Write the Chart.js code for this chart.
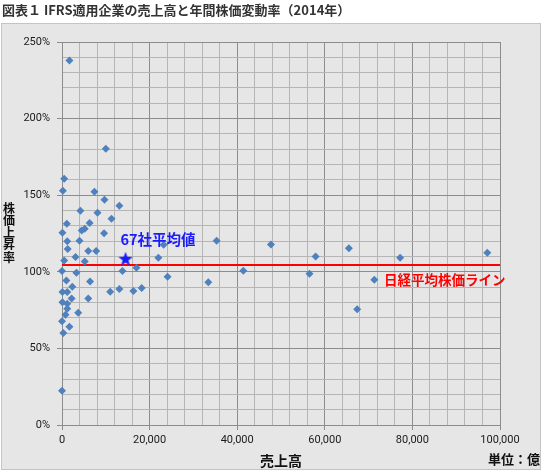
<!DOCTYPE html>
<html><head><meta charset="utf-8">
<script src="https://cdn.jsdelivr.net/npm/chart.js@4.4.1/dist/chart.umd.min.js"></script>
<style>html,body{margin:0;padding:0;background:#fff;}#wrap{position:relative;width:550px;height:472px;}</style>
</head><body><div id="wrap"><canvas id="c" width="550" height="472"></canvas></div>
<script>
const chartTitle = '図表１ IFRS適用企業の売上高と年間株価変動率（2014年）';
const xTitle = '売上高';
const yTitle = '株価上昇率';
const unitLabel = '単位：億';
const avgLabel = '67社平均値';
const nikkeiLabel = '日経平均株価ライン';

// sales (億円) and annual stock price change (%)
const sales = [1700,10000,500,200,7400,9700,13100,4200,8100,11300,1100,6300,100,4500,5200,9600,1200,4000,1300,6000,7800,3100,5200,500,0,3300,13800,17000,22000,23200,35300,47700,24100,33400,41400,18200,16300,13100,11000,57900,65500,77200,56500,71300,67400,97100,1000,6400,2350,100,1200,2200,6000,100,1200,1200,3700,800,0,1700,300,0];
const priceChange = [237.9,180.3,160.7,152.9,152.2,147.0,143.1,139.9,138.5,134.6,131.4,131.8,125.5,127.0,128.1,125.2,120.0,120.3,114.9,113.5,113.5,109.6,106.8,107.4,100.6,99.4,100.5,102.7,109.2,117.7,120.3,117.9,96.8,93.1,100.7,89.5,87.4,88.7,87.0,110.0,115.3,109.2,98.8,94.8,75.5,112.5,94.4,93.7,90.2,86.8,86.8,82.5,82.5,80.2,79.2,75.9,73.3,72.0,67.8,64.2,60.0,22.4];
const avgSales = [14500];
const avgChange = [108.5];
const nikkeiChange = [104.5];
const nikkeiRange = [0, 100000];
const nikkeiLabelAt = [73500];

const MAJOR = '#8c8c8c', MINOR = '#b5b5b5';

// star marker
const star = document.createElement('canvas');
star.width = 16; star.height = 16;
(function(){
  const g = star.getContext('2d');
  g.fillStyle = '#1a1aff';
  g.beginPath();
  for (let i = 0; i < 10; i++) {
    const r = i % 2 === 0 ? 7.5 : 3.1;
    const a = -Math.PI/2 + i * Math.PI/5;
    const px = 8 + r*Math.cos(a), py = 8.6 + r*Math.sin(a);
    if (i === 0) g.moveTo(px, py); else g.lineTo(px, py);
  }
  g.closePath(); g.fill();
})();

const decor = {
  id: 'decor',
  beforeDraw(chart) {
    const ctx = chart.ctx;
    ctx.save();
    ctx.fillStyle = '#ffffff';
    ctx.fillRect(0, 0, chart.width, chart.height);
    ctx.fillStyle = '#e6e6e6';
    ctx.fillRect(1, 23, 540, 447);
    ctx.strokeStyle = '#c4c4c4';
    ctx.lineWidth = 1;
    ctx.strokeRect(1.5, 23.5, 539, 446);
    ctx.fillStyle = '#333333';
    ctx.font = 'bold 13px "Noto Sans CJK JP"';
    ctx.textBaseline = 'middle';
    ctx.textAlign = 'left';
    ctx.fillText(chartTitle, 2, 10);
    ctx.restore();
  },
  afterDraw(chart) {
    const ctx = chart.ctx, xs = chart.scales.x, ys = chart.scales.y, a = chart.chartArea;
    ctx.save();
    ctx.textBaseline = 'middle';
    ctx.fillStyle = '#111111';
    ctx.font = 'bold 14px "Noto Sans CJK JP"';
    ctx.textAlign = 'center';
    ctx.fillText(xTitle, (a.left + a.right) / 2, 461);
    ctx.textAlign = 'right';
    ctx.font = 'bold 13px "Noto Sans CJK JP"';
    ctx.fillText(unitLabel, 540, 459);
    ctx.textAlign = 'center';
    ctx.font = 'bold 12px "Noto Sans CJK JP"';
    [...yTitle].forEach((ch, i) => ctx.fillText(ch, 9, 208 + i * 12.3));
    // average label
    ctx.textAlign = 'left';
    ctx.fillStyle = '#1a1aff';
    ctx.font = 'bold 14.5px "Noto Sans CJK JP"';
    ctx.fillText(avgLabel, xs.getPixelForValue(avgSales[0]) - 5, ys.getPixelForValue(avgChange[0]) - 19);
    // nikkei label
    ctx.fillStyle = '#ff0000';
    ctx.font = 'bold 13.5px "Noto Sans CJK JP"';
    ctx.fillText(nikkeiLabel, xs.getPixelForValue(nikkeiLabelAt[0]), ys.getPixelForValue(nikkeiChange[0]) + 14.5);
    ctx.restore();
  }
};

new Chart(document.getElementById('c'), {
  type: 'scatter',
  data: {
    datasets: [
      {
        label: nikkeiLabel,
        data: nikkeiRange.map(x => ({x, y: nikkeiChange[0]})),
        showLine: true, borderColor: '#ff0000', borderWidth: 2,
        pointRadius: 0, fill: false, order: 3
      },
      {
        label: 'IFRS適用企業',
        data: sales.map((x, i) => ({x, y: priceChange[i]})),
        pointStyle: 'rectRot', pointRadius: 4, pointHoverRadius: 4,
        backgroundColor: '#4f81bd', borderColor: '#4f81bd', borderWidth: 0,
        clip: false, order: 2
      },
      {
        label: avgLabel,
        data: avgSales.map((x, i) => ({x, y: avgChange[i]})),
        pointStyle: star, pointRadius: 8, clip: false, order: 1
      }
    ]
  },
  options: {
    responsive: false,
    animation: false,
    devicePixelRatio: 1,
    layout: { padding: { top: 42, right: 50, left: 0, bottom: 0 } },
    plugins: { legend: { display: false }, tooltip: { enabled: false }, title: { display: false } },
    scales: {
      x: {
        type: 'linear', min: 0, max: 100000,
        ticks: {
          stepSize: 4000, autoSkip: false, maxRotation: 0, padding: 4,
          color: '#1a1a1a', font: { family: 'Roboto', size: 11 },
          callback: v => (v % 20000 === 0 ? v.toLocaleString('en-US') : '')
        },
        grid: {
          color: c => (c.tick && c.tick.value % 20000 === 0 ? MAJOR : MINOR),
          tickColor: c => (c.tick && c.tick.value % 20000 === 0 ? MAJOR : 'rgba(0,0,0,0)'),
          tickLength: 5, lineWidth: 1
        },
        border: { color: MAJOR, width: 1 },
        afterFit: s => { s.height = 47; }
      },
      y: {
        type: 'linear', min: 0, max: 250,
        ticks: {
          stepSize: 10, autoSkip: false, padding: 7,
          color: '#1a1a1a', font: { family: 'Roboto', size: 11 },
          callback: v => (v % 50 === 0 ? v + '%' : '')
        },
        grid: {
          color: c => (c.tick && c.tick.value % 50 === 0 ? MAJOR : MINOR),
          tickColor: c => (c.tick && c.tick.value % 50 === 0 ? MAJOR : 'rgba(0,0,0,0)'),
          tickLength: 5, lineWidth: 1
        },
        border: { color: MAJOR, width: 1 },
        afterFit: s => { s.width = 62; }
      }
    }
  },
  plugins: [decor]
});
</script>
</body></html>
